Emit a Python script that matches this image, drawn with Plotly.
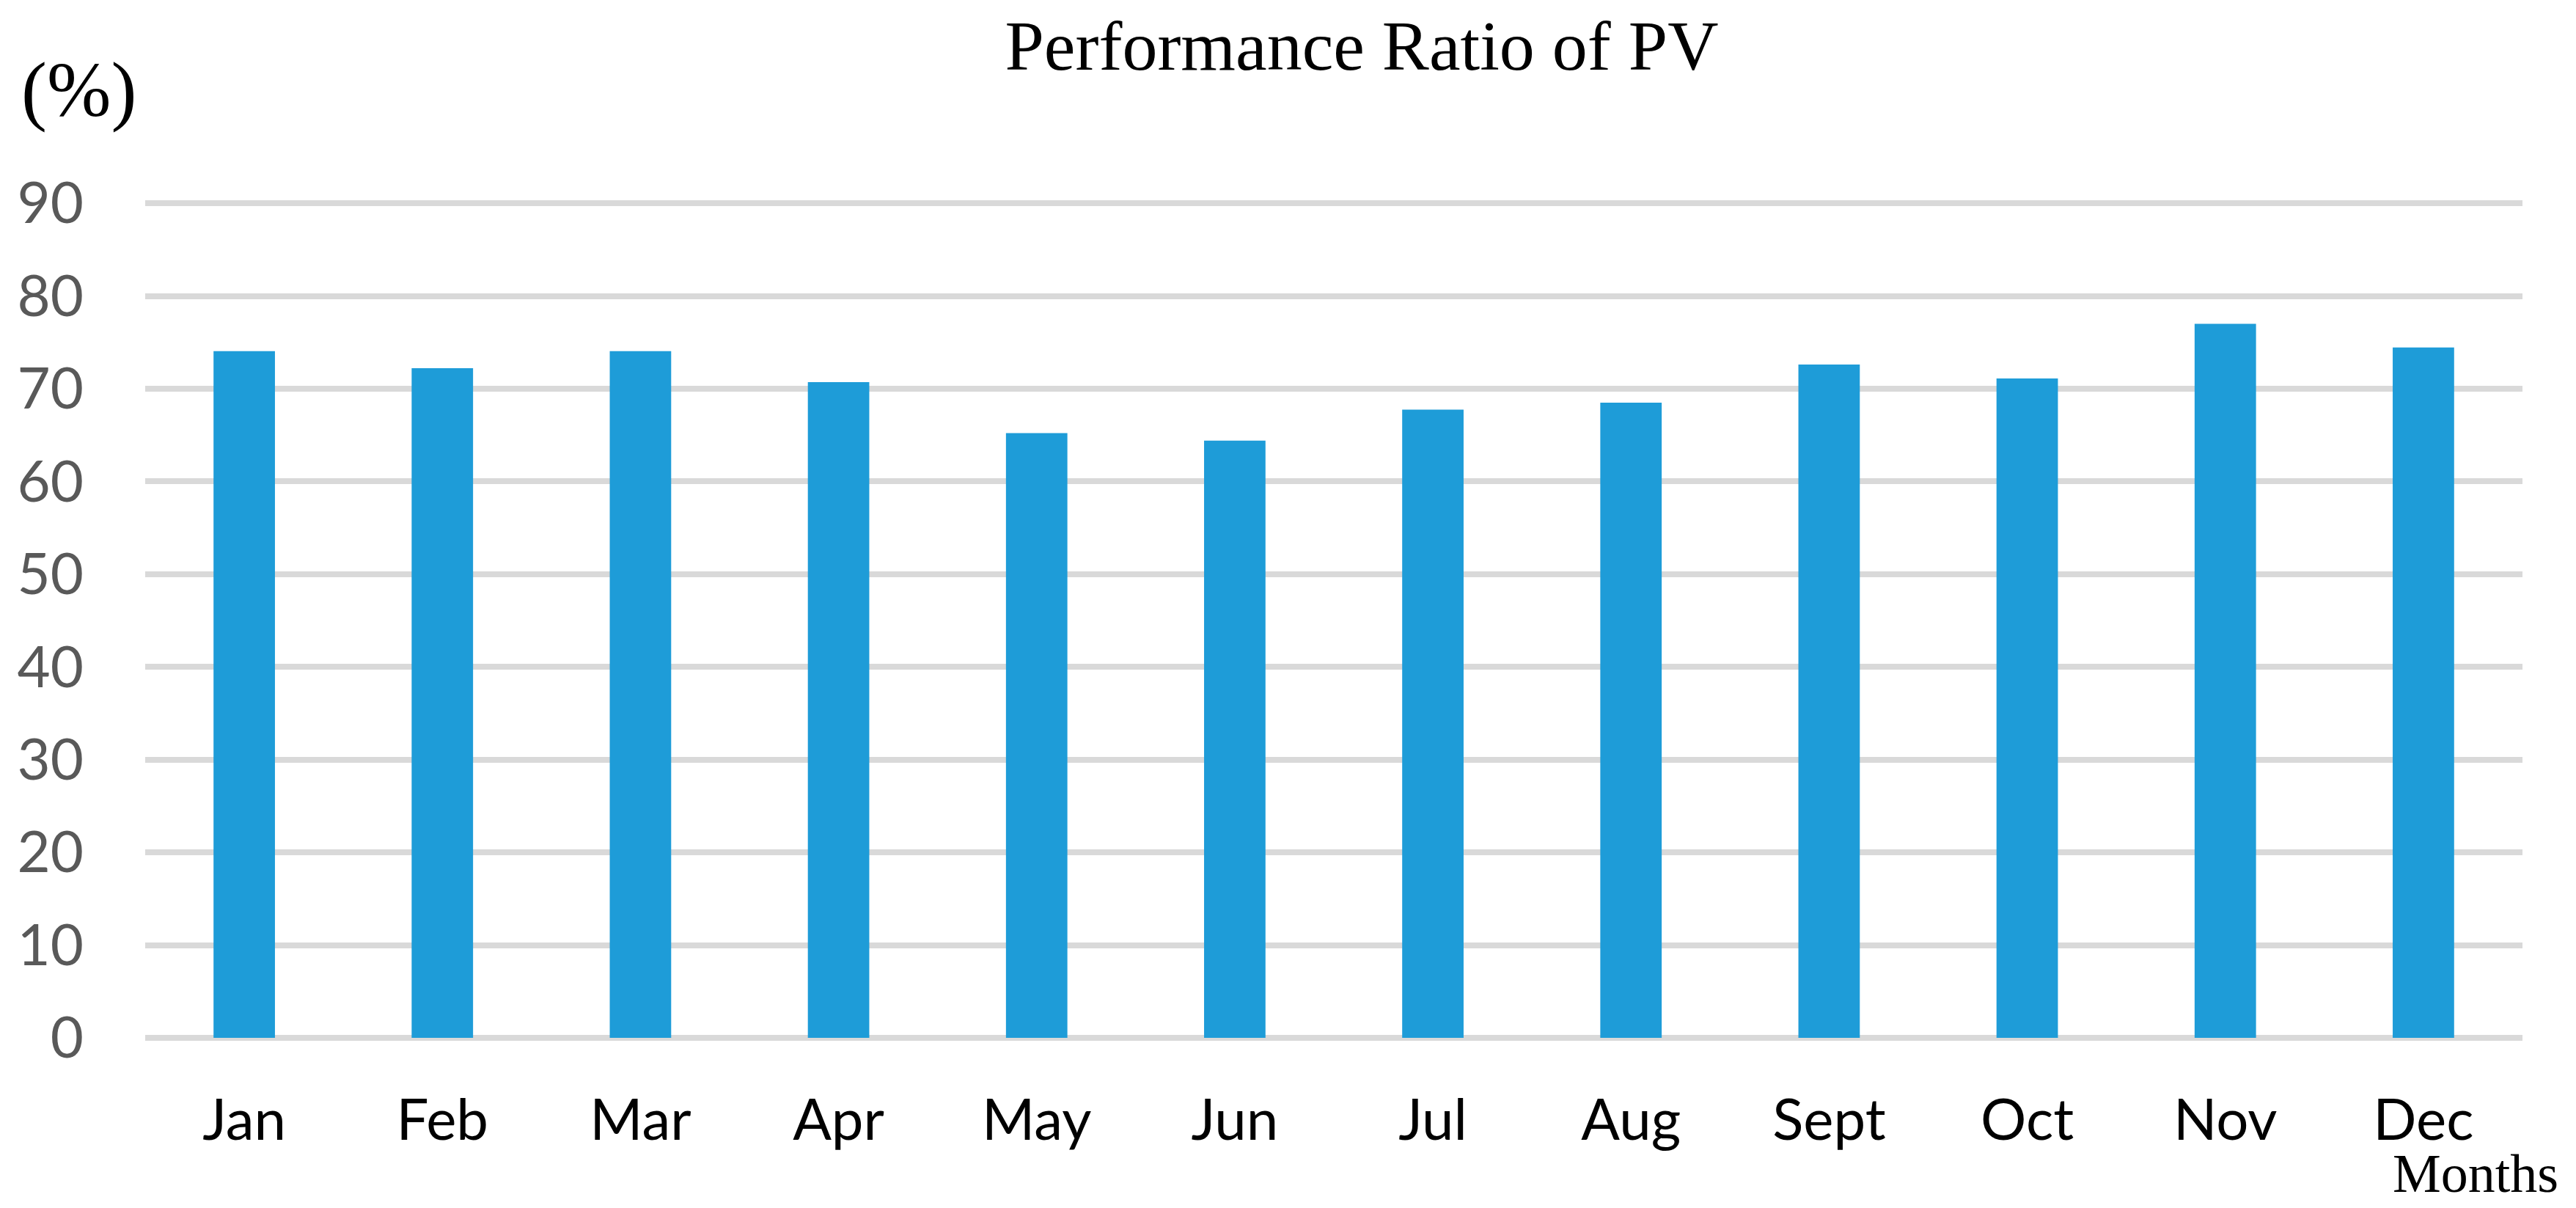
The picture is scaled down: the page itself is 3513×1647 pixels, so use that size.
import plotly.graph_objects as go

months = ["Jan", "Feb", "Mar", "Apr", "May", "Jun", "Jul", "Aug", "Sept", "Oct", "Nov", "Dec"]
performance_ratio = [74.05, 72.2, 74.05, 70.7, 65.2, 64.4, 67.75, 68.5, 72.6, 71.1, 77.0, 74.45]
y_ticks = [0, 10, 20, 30, 40, 50, 60, 70, 80, 90]

W, H = 3513, 1647
L, R, T, B = 190, 81, 264, 240
plot_w = W - L - R
plot_h = H - T - B

def px_x(x):
    return (x - L) / plot_w

def px_y(y):
    return (H - B - y) / plot_h

fig = go.Figure()
fig.add_trace(go.Bar(
    x=months,
    y=performance_ratio,
    marker=dict(color="#1E9CD8", line=dict(width=0)),
    hoverinfo="x+y",
))

fig.update_layout(
    width=W,
    height=H,
    margin=dict(l=L, r=R, t=T, b=B, pad=0),
    paper_bgcolor="white",
    plot_bgcolor="white",
    bargap=0.69,
    showlegend=False,
    title=dict(
        text="Performance Ratio of PV",
        font=dict(family="Liberation Serif", size=96, color="black"),
        xref="container", yref="container",
        x=1849 / W, xanchor="center",
        y=1 - 20 / H, yanchor="top",
    ),
    xaxis=dict(
        showgrid=False,
        showline=False,
        zeroline=False,
        ticks="",
        tickfont=dict(family="Lato", size=78, color="black"),
        ticklabelstandoff=60,
        fixedrange=True,
    ),
    yaxis=dict(
        range=[0, 90.4],
        tickvals=y_ticks,
        ticktext=[str(v) for v in y_ticks],
        showgrid=True,
        gridcolor="#D9D9D9",
        gridwidth=8,
        zeroline=True,
        zerolinecolor="#D9D9D9",
        zerolinewidth=8,
        showline=False,
        ticks="",
        tickfont=dict(family="Lato", size=78, color="#595959"),
        ticklabelstandoff=83,
        fixedrange=True,
    ),
    annotations=[
        dict(
            text="(%)", showarrow=False,
            xref="paper", yref="paper",
            x=px_x(19), xanchor="left",
            y=px_y(114), yanchor="middle",
            font=dict(family="Liberation Serif", size=105, color="black"),
        ),
        dict(
            text="Months", showarrow=False,
            xref="paper", yref="paper",
            x=px_x(3368), xanchor="center",
            y=px_y(1592), yanchor="middle",
            font=dict(family="Liberation Serif", size=74, color="black"),
        ),
    ],
)

fig.write_html("out.html")
